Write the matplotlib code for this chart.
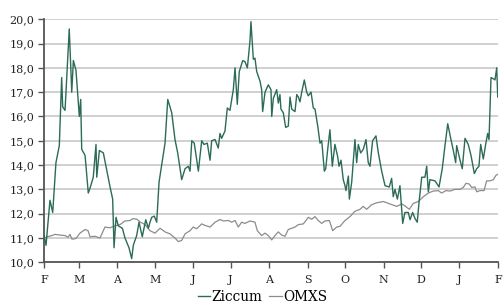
import matplotlib
matplotlib.use("Agg")
import matplotlib.pyplot as plt
from matplotlib.ticker import FuncFormatter

# Days since 1 Feb, value
zic_day = [0, 1.6, 4.8, 7.0, 9.6, 12.3, 14.2, 15.0, 16.9, 18.7, 20.3, 22.3, 23.6, 25.7, 28.4, 29.5,
           30.3, 33.0, 35.6, 37.0, 39.6, 41.8, 42.4, 44.5, 47.7, 50.4, 53.1, 55.2, 56.3, 57.9, 59.7,
           63.0, 65.1, 68.3, 70.5, 71.8, 74.5, 76.4, 79.0, 81.8, 83.9, 85.2, 86.6, 88.7, 90.6, 92.5,
           94.6, 97.3, 99.5, 102.7, 105.3, 107.5, 110.7, 113.4, 116.0, 117.4, 118.8, 120.8, 124.1,
           126.8, 128.6, 131.3, 133.5, 134.8, 137.5, 140.1, 141.5, 142.8, 145.5, 147.4, 149.5, 152.2,
           153.6, 155.4, 157.0, 159.8, 161.6, 163.5, 165.6, 166.4, 168.3, 169.6, 171.0, 173.7, 175.0,
           175.8, 177.7, 180.3, 182.5, 183.1, 184.4, 187.1, 188.4, 189.7, 190.5, 192.4, 194.3, 196.4,
           197.8, 199.2, 201.8, 203.2, 204.5, 205.8, 207.2, 209.3, 211.2, 212.5, 214.7, 216.5, 217.9,
           220.1, 221.9, 223.3, 225.4, 226.5, 228.1, 229.9, 231.8, 233.9, 236.1, 237.2, 238.8, 240.6,
           242.0, 242.8, 244.7, 245.5, 247.4, 250.0, 251.4, 252.7, 254.6, 256.7, 258.9, 260.7, 262.1,
           264.2, 266.9, 268.8, 271.5, 274.2, 277.6, 279.5, 280.8, 282.2, 284.1, 286.2, 288.4, 290.2,
           292.9, 294.3, 296.4, 298.3, 300.1, 301.5, 303.7, 306.3, 307.7, 309.0, 310.3, 314.4, 317.6,
           320.2, 322.4, 324.6, 327.2, 329.1, 331.0, 331.8, 334.5, 336.3, 338.5, 341.1, 343.3, 346.0,
           347.9, 349.7, 351.1, 353.2, 355.1, 356.7, 357.8, 359.4, 361.3, 362.6, 364.0, 364.8]
zic_val = [11.1, 10.7, 12.55, 12.05, 14.1, 14.8, 17.6, 16.4, 16.25, 18.0, 19.6, 17.0, 18.3, 17.9, 16.0, 16.7,
           14.65, 14.4, 12.85, 13.05, 13.5, 14.85, 13.5, 14.6, 14.5, 13.8, 13.1, 12.6, 10.6, 11.85, 11.5,
           11.4, 11.0, 10.6, 10.15, 10.7, 11.1, 11.65, 11.05, 11.75, 11.4, 11.65, 11.85, 11.9, 11.65, 13.3,
           14.0, 14.9, 16.7, 16.15, 15.05, 14.5, 13.4, 13.85, 13.95, 13.75, 15.0, 14.9, 13.75,
           15.0, 14.85, 14.9, 14.2, 15.0, 15.05, 14.7, 15.3, 15.1, 15.4, 16.35, 16.25, 17.1,
           18.0, 16.5, 17.85, 18.3, 18.25, 18.0, 19.1, 19.9, 18.35, 18.4, 17.85, 17.45, 17.1,
           16.2, 17.0, 17.3, 17.1, 16.0, 16.75, 17.1, 16.55, 16.9, 16.3, 16.15, 15.55, 15.6,
           16.8, 16.3, 16.2, 16.9, 16.8, 16.6, 17.0, 17.5, 17.0, 16.85, 17.0, 16.35, 16.3,
           15.6, 14.9, 15.0, 13.75, 13.85, 14.65, 15.45, 13.95, 14.85, 14.35, 13.95, 14.2, 13.4,
           13.15, 12.95, 13.55, 12.6, 13.3, 15.05, 14.1, 14.85, 14.5, 14.65, 15.05, 14.1, 13.95,
           15.0, 15.2, 14.5, 13.75, 13.15, 13.1, 13.45, 12.7, 13.0, 12.6, 13.15, 11.6, 12.05,
           12.05, 11.75, 12.05, 11.8, 11.65, 12.45, 13.5, 13.5, 13.95, 12.9, 13.4, 13.35, 13.1,
           13.85, 14.8, 15.7, 15.05, 14.6, 14.1, 14.8, 14.2, 13.85, 15.1, 14.85, 14.4, 13.65,
           13.85, 13.95, 14.85, 14.25, 14.85, 15.3, 15.05, 17.6, 17.55, 17.5, 18.0, 16.8]

omx_day = [0, 2.4, 6.4, 8.8, 12.9, 16.9, 19.3, 20.9, 22.5, 25.7, 28.9, 33.0, 35.4, 37.0, 41.0, 45.0,
           49.0, 53.1, 57.1, 61.1, 65.1, 69.1, 71.6, 74.8, 77.2, 81.2, 85.2, 89.2, 93.3, 97.3, 101.3,
           105.3, 108.0, 110.7, 113.4, 117.4, 120.0, 122.8, 126.8, 129.4, 133.5, 137.5, 141.5, 144.2,
           148.2, 150.9, 153.6, 156.2, 158.9, 161.6, 165.6, 169.6, 171.5, 175.0, 177.7, 180.3, 183.1,
           185.7, 188.4, 191.1, 193.8, 196.4, 199.2, 201.8, 204.5, 208.5, 212.5, 215.2, 217.9, 220.5,
           223.3, 225.9, 229.4, 232.1, 235.3, 238.0, 242.0, 246.0, 250.0, 254.1, 256.7, 259.4, 263.5,
           267.5, 272.8, 278.2, 283.6, 287.6, 290.2, 293.7, 296.9, 300.9, 305.0, 309.0, 313.0, 317.0,
           319.7, 323.2, 326.4, 330.4, 334.5, 337.1, 339.3, 341.9, 343.9, 346.5, 347.9, 350.5, 353.8,
           355.9, 358.6, 361.3, 363.4, 365.0]
omx_val = [11.0, 11.05, 11.1, 11.15, 11.12, 11.1, 11.03, 11.15, 10.95, 10.98, 11.2, 11.35, 11.3, 11.05, 11.07, 11.0,
           11.45, 11.42, 11.5, 11.55, 11.7, 11.72, 11.8, 11.77, 11.66, 11.55, 11.3, 11.2, 11.4, 11.25, 11.17,
           11.0, 10.85, 10.9, 11.17, 11.3, 11.45, 11.38, 11.58, 11.52, 11.45, 11.65, 11.76, 11.7,
           11.72, 11.65, 11.72, 11.45, 11.65, 11.6, 11.7, 11.65, 11.3, 11.1, 11.2, 11.1, 10.92,
           11.1, 11.25, 11.12, 11.07, 11.35, 11.4, 11.45, 11.55, 11.58, 11.85, 11.77, 11.88, 11.72,
           11.6, 11.7, 11.72, 11.3, 11.45, 11.48, 11.72, 11.88, 12.1, 12.18, 12.3, 12.18, 12.37,
           12.45, 12.5, 12.4, 12.3, 12.4, 12.32, 12.18, 12.42, 12.5, 12.7, 12.85, 12.93, 12.95,
           12.85, 12.95, 12.93, 13.0, 13.0, 13.08, 13.25, 13.22, 13.08, 13.1, 12.9, 12.95, 12.95,
           13.35, 13.35, 13.4, 13.58, 13.62]

month_ticks = [0, 28, 59, 89, 120, 150, 181, 212, 242, 273, 303, 334, 365]
month_labels = ["F", "M", "A", "M", "J", "J", "A", "S", "O", "N", "D", "J", "F"]
y_ticks = [10, 11, 12, 13, 14, 15, 16, 17, 18, 19, 20]

plt.rcParams['font.family'] = ['DejaVu Serif']

fig = plt.figure(figsize=(5.03, 3.05), dpi=100)
ax = fig.add_axes([0.0875, 0.140, 0.9025, 0.797])

ax.plot(omx_day, omx_val, color="#8c8c8c", lw=0.9, label="OMXS", zorder=3)
ax.plot(zic_day, zic_val, color="#2b6b58", lw=1.0, label="Ziccum", zorder=4)

ax.set_xlim(0, 365)
ax.set_ylim(10, 20)
ax.set_yticks(y_ticks)
ax.yaxis.set_major_formatter(FuncFormatter(lambda v, p: f"{v:.1f}".replace(".", ",")))
ax.set_xticks(month_ticks)
ax.set_xticklabels(month_labels)

ax.grid(axis="y", color="#d0d0d0", lw=1.4, zorder=0)
ax.set_axisbelow(True)
for s in ["top", "right"]:
    ax.spines[s].set_visible(False)
for s in ["left", "bottom"]:
    ax.spines[s].set_color("#555555")
    ax.spines[s].set_linewidth(1.3)
ax.tick_params(axis="both", colors="#555555", labelcolor="#222222", labelsize=8, length=4, width=1)
ax.tick_params(axis="x", pad=5)
ax.tick_params(axis="y", pad=3)

h, l = ax.get_legend_handles_labels()
leg = fig.legend([h[1], h[0]], [l[1], l[0]], loc="center", bbox_to_anchor=(0.522, 0.026), ncol=2,
                 frameon=False, fontsize=9.8, handlelength=0.9, handletextpad=0.1, columnspacing=0.5,
                 borderpad=0, borderaxespad=0)

fig.savefig("out.png", dpi=100)
